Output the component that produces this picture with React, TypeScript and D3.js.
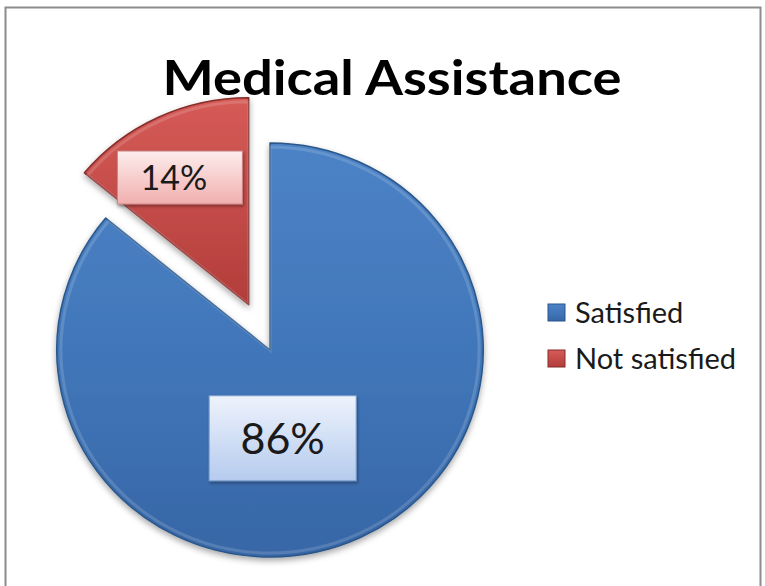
import React from "react";
import * as d3 from "d3";

const categories = ["Satisfied", "Not satisfied"];
const values = [86, 14];
const labels = ["86%", "14%"];
const title = "Medical Assistance";

const W = 765;
const H = 586;
const cx = 270;
const cy = 350;
const R = 207;
const sx = 1.03;
const explode = [0, 50];

const fills = [
  { top: "#4C83C6", mid: "#4177BA", bottom: "#3766A6", stroke: "#2B5789", boxTop: "#EEF3FC", boxBottom: "#B5CBEE", boxStroke: "#7FA0CF" },
  { top: "#D65B57", mid: "#C44C49", bottom: "#B23D3A", stroke: "#852D2B", boxTop: "#FDEDED", boxBottom: "#F0AFAE", boxStroke: "#C98584" },
];
const labelFactor = [0.45, 0.69];
const labelNudge = [[-27, 4], [-8, 2]];
const boxSize = [[147, 85], [125, 53]];
const labelFont = [43, 34];

export default function App() {
  const pie = d3.pie<number>().sort(null).value((d) => d);
  const arcs = pie(values);
  const arcGen = d3.arc<d3.PieArcDatum<number>>().innerRadius(0).outerRadius(R);
  const innerGen = d3.arc<d3.PieArcDatum<number>>().innerRadius(0).outerRadius(R - 4);

  return (
    <svg width={W} height={H} style={{ position: "absolute", left: 0, top: 0, background: "#fff" }}
      fontFamily="Lato, 'Open Sans', sans-serif">
      <defs>
        <filter id="shadow" x="-20%" y="-20%" width="140%" height="140%">
          <feDropShadow dx="0" dy="3" stdDeviation="3" floodColor="#000" floodOpacity="0.35" />
        </filter>
        <filter id="boxShadow" x="-20%" y="-20%" width="140%" height="150%">
          <feDropShadow dx="1" dy="2" stdDeviation="1.5" floodColor="#000" floodOpacity="0.35" />
        </filter>
        {fills.map((f, i) => (
          <linearGradient key={i} id={`g${i}`} x1="0" y1="0" x2="0" y2="1">
            <stop offset="0" stopColor={f.top} />
            <stop offset="0.5" stopColor={f.mid} />
            <stop offset="1" stopColor={f.bottom} />
          </linearGradient>
        ))}
        {fills.map((f, i) => (
          <linearGradient key={"b" + i} id={`bx${i}`} x1="0" y1="0" x2="0" y2="1">
            <stop offset="0" stopColor={f.boxTop} />
            <stop offset="1" stopColor={f.boxBottom} />
          </linearGradient>
        ))}
      </defs>
      <rect x={5.5} y={7.5} width={755} height={600} fill="#fff" stroke="#8c8c8c" strokeWidth={2} />
      <text x={392} y={95} textAnchor="middle" fontSize={48} fontWeight="bold" fill="#000"
        textLength={459} lengthAdjust="spacingAndGlyphs">{title}</text>

      {arcs.map((a, i) => {
        const mid = (a.startAngle + a.endAngle) / 2;
        const ox = Math.sin(mid) * explode[i];
        const oy = -Math.cos(mid) * explode[i];
        return (
          <g key={i} transform={`translate(${cx + ox},${cy + oy}) scale(${sx},1)`}>
            <path d={arcGen(a) || ""} fill={`url(#g${i})`} stroke={fills[i].stroke} strokeWidth={1.5}
              strokeLinejoin="round" filter="url(#shadow)" />
            <path d={innerGen(a) || ""} fill="none" stroke="#fff" strokeOpacity={0.15} strokeWidth={3} />
          </g>
        );
      })}

      {arcs.map((a, i) => {
        const mid = (a.startAngle + a.endAngle) / 2;
        const ox = Math.sin(mid) * explode[i];
        const oy = -Math.cos(mid) * explode[i];
        const lr = R * labelFactor[i];
        const lx = cx + ox + Math.sin(mid) * lr + labelNudge[i][0];
        const ly = cy + oy - Math.cos(mid) * lr + labelNudge[i][1];
        const [bw, bh] = boxSize[i];
        return (
          <g key={"l" + i}>
            <rect x={lx - bw / 2} y={ly - bh / 2} width={bw} height={bh} fill={`url(#bx${i})`}
              stroke={fills[i].boxStroke} strokeWidth={1} filter="url(#boxShadow)" />
            <text x={lx - (i === 1 ? 6 : 0)} y={ly} dy="0.36em" textAnchor="middle" fontSize={labelFont[i]} fill="#1a1a1a">
              {labels[i]}
            </text>
          </g>
        );
      })}

      {categories.map((c, i) => (
        <g key={"lg" + i} transform={`translate(548,${304 + i * 46})`}>
          <rect x={0} y={0} width={17} height={17} fill={`url(#g${i})`} stroke={fills[i].stroke} strokeWidth={1} />
          <text x={27} y={8.5} dy="0.36em" fontSize={29} fill="#1a1a1a">{c}</text>
        </g>
      ))}
    </svg>
  );
}
